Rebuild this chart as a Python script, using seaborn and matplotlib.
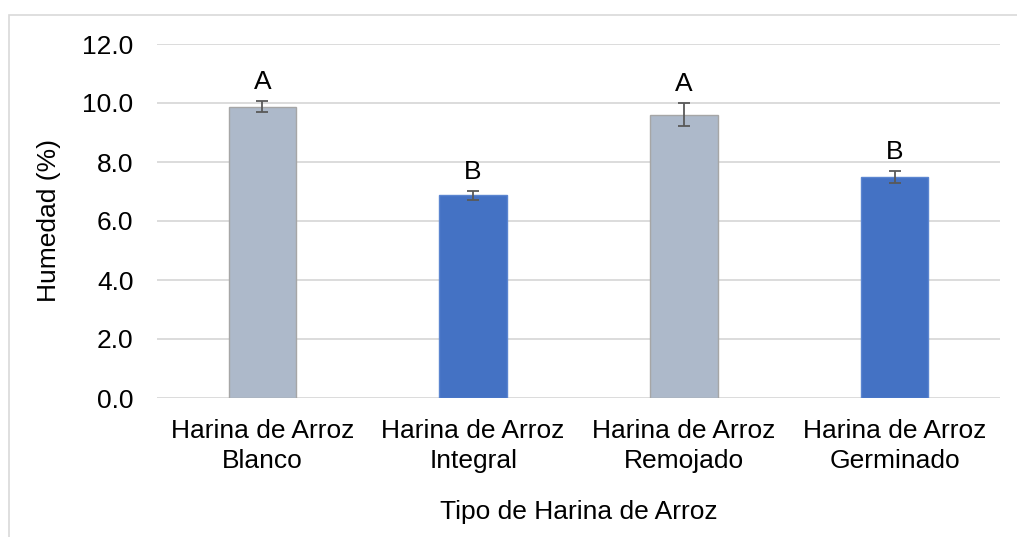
import matplotlib
matplotlib.use("Agg")
import matplotlib.pyplot as plt
import seaborn as sns
import pandas as pd
from matplotlib.patches import Rectangle

categorias = ["Harina de Arroz\nBlanco", "Harina de Arroz\nIntegral",
              "Harina de Arroz\nRemojado", "Harina de Arroz\nGerminado"]
humedad = [9.88, 6.87, 9.60, 7.48]
error = [0.20, 0.15, 0.39, 0.20]
letras = ["A", "B", "A", "B"]
colores = ["#ADB9CA", "#4472C4", "#ADB9CA", "#4472C4"]
bordes = ["#A6A6A6", "#5B85D0", "#A6A6A6", "#5B85D0"]
yticks = [0, 2, 4, 6, 8, 10, 12]

sns.set_theme(style="white")
plt.rcParams['font.family'] = ['Liberation Sans', 'DejaVu Sans']

df = pd.DataFrame({"cat": categorias, "val": humedad})
FS = 19

fig = plt.figure(figsize=(10.17, 5.37), dpi=100)
ax = fig.add_axes([157/1017, 1-398/537, (1000-157)/1017, (398-44)/537])

sns.barplot(data=df, x="cat", y="val", hue="cat", palette=colores,
            saturation=1, width=0.32, errorbar=None, legend=False, ax=ax, zorder=3)
for p, ec in zip(ax.patches, bordes):
    p.set_edgecolor(ec)
    p.set_linewidth(1.0)

xs = list(range(len(categorias)))
ax.errorbar(xs, humedad, yerr=error, fmt="none", ecolor="#595959",
            elinewidth=1.3, capsize=4.5, capthick=1.3, zorder=4)

for x, y, e, t in zip(xs, humedad, error, letras):
    ax.annotate(t, (x, y + e), xytext=(0, 5), textcoords="offset points",
                ha="center", va="bottom", fontsize=FS, color="black")

ax.set_ylim(0, 12)
ax.set_xlim(-0.5, 3.5)
ax.set_yticks(yticks)
ax.set_yticklabels([f"{v:.1f}" for v in yticks])
ax.yaxis.grid(True, color="#D9D9D9", linewidth=1.3)
ax.set_axisbelow(True)
for s in ax.spines.values():
    s.set_visible(False)
ax.tick_params(axis="y", length=0, pad=17, labelsize=FS, labelcolor="black")
ax.tick_params(axis="x", length=0, pad=15, labelsize=FS, labelcolor="black")
for lbl in ax.get_xticklabels():
    lbl.set_linespacing(1.35)
ax.set_xlabel("Tipo de Harina de Arroz", fontsize=FS, color="black", labelpad=19)
ax.set_ylabel("Humedad (%)", fontsize=FS, color="black", labelpad=15)

fig.patches.append(Rectangle((9/1017, -0.05), 1.1, 1 - 15/537 + 0.05,
                             transform=fig.transFigure, fill=False,
                             edgecolor="#D9D9D9", linewidth=1.2, zorder=0))

fig.savefig("out.png", dpi=100)
